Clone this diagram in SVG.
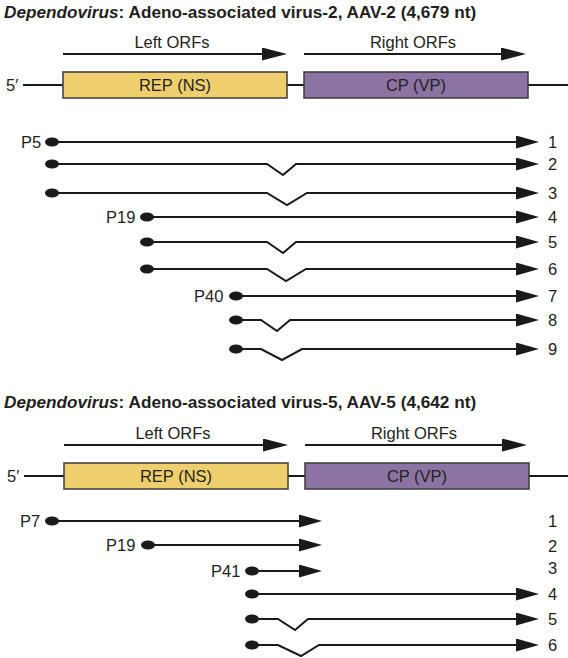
<svg xmlns="http://www.w3.org/2000/svg" width="568" height="658" viewBox="0 0 568 658">
<defs>
<style>
text{font-family:"Liberation Sans",Arial,sans-serif;fill:#231f20}
.title{font-size:17.2px;font-weight:bold}
.lbl{font-size:16.5px}
.mid{text-anchor:middle}
.line{fill:none;stroke:#1a1a1a;stroke-width:2}
.tx{fill:none;stroke:#1a1a1a;stroke-width:2;marker-end:url(#ah)}
.orf{fill:none;stroke:#1a1a1a;stroke-width:2.2;marker-end:url(#ah2)}
.rep{fill:#efcf6d;stroke:#3a3a3a;stroke-width:1.5}
.cp{fill:#8b74a3;stroke:#3a3a3a;stroke-width:1.5}
.dot{fill:#1a1a1a}
</style>
<marker id="ah" markerUnits="userSpaceOnUse" markerWidth="23" markerHeight="13" refX="13" refY="6.5" orient="auto"><path d="M0,0 L23,6.5 L0,13 z" fill="#1a1a1a"/></marker>
<marker id="ah2" markerUnits="userSpaceOnUse" markerWidth="25" markerHeight="13" refX="15" refY="6.5" orient="auto"><path d="M0,0 L25,6.5 L0,13 z" fill="#1a1a1a"/></marker>
</defs>

<g id="aav2">
<g id="title2"><text class="title" x="4" y="18"><tspan font-style="italic">Dependovirus</tspan>: Adeno-associated virus-2, AAV-2 (4,679 nt)</text></g>
<g id="orf-left2"><path class="orf" d="M63,54 H277"/><text class="lbl mid" x="172" y="47.5">Left ORFs</text></g>
<g id="orf-right2"><path class="orf" d="M304,54 H516"/><text class="lbl mid" x="413" y="47.5">Right ORFs</text></g>
<g id="genome2">
<text class="lbl" x="6" y="91">5′</text>
<path class="line" d="M23,85 H63 M287,85 H304 M528,85 H568"/>
</g>
<g id="rep2"><rect class="rep" x="63" y="72" width="224" height="26"/><text class="lbl mid" x="175" y="91">REP (NS)</text></g>
<g id="cp2"><rect class="cp" x="304" y="72" width="224" height="26"/><text class="lbl mid" x="416" y="91">CP (VP)</text></g>
<g id="promoters2">
<text class="lbl" x="21" y="148">P5</text>
<text class="lbl" x="106" y="223">P19</text>
<text class="lbl" x="194" y="302">P40</text>
<ellipse class="dot" cx="52" cy="142" rx="7" ry="4.5"/>
<ellipse class="dot" cx="52" cy="164" rx="7" ry="4.5"/>
<ellipse class="dot" cx="52" cy="193" rx="7" ry="4.5"/>
<ellipse class="dot" cx="147" cy="217" rx="7" ry="4.5"/>
<ellipse class="dot" cx="147" cy="242" rx="7" ry="4.5"/>
<ellipse class="dot" cx="147" cy="269" rx="7" ry="4.5"/>
<ellipse class="dot" cx="236" cy="296" rx="7" ry="4.5"/>
<ellipse class="dot" cx="236" cy="320" rx="7" ry="4.5"/>
<ellipse class="dot" cx="236" cy="349" rx="7" ry="4.5"/>
</g>
<g id="numbers2">
<text class="lbl" x="548" y="148">1</text>
<text class="lbl" x="548" y="170">2</text>
<text class="lbl" x="548" y="199">3</text>
<text class="lbl" x="548" y="223">4</text>
<text class="lbl" x="548" y="248">5</text>
<text class="lbl" x="548" y="275">6</text>
<text class="lbl" x="548" y="302">7</text>
<text class="lbl" x="548" y="326">8</text>
<text class="lbl" x="548" y="355">9</text>
</g>
</g>

<g id="aav5">
<g id="title5"><text class="title" x="4" y="408"><tspan font-style="italic">Dependovirus</tspan>: Adeno-associated virus-5, AAV-5 (4,642 nt)</text></g>
<g id="orf-left5"><path class="orf" d="M64,445 H278"/><text class="lbl mid" x="173" y="438.5">Left ORFs</text></g>
<g id="orf-right5"><path class="orf" d="M305,445 H517"/><text class="lbl mid" x="414" y="438.5">Right ORFs</text></g>
<g id="genome5">
<text class="lbl" x="7" y="482">5′</text>
<path class="line" d="M24,476 H64 M288,476 H305 M529,476 H568"/>
</g>
<g id="rep5"><rect class="rep" x="64" y="463" width="224" height="26"/><text class="lbl mid" x="176" y="482">REP (NS)</text></g>
<g id="cp5"><rect class="cp" x="305" y="463" width="224" height="26"/><text class="lbl mid" x="417" y="482">CP (VP)</text></g>
<g id="promoters5">
<text class="lbl" x="20" y="527">P7</text>
<text class="lbl" x="106" y="551">P19</text>
<text class="lbl" x="211" y="577">P41</text>
<ellipse class="dot" cx="52" cy="521" rx="7" ry="4.5"/>
<ellipse class="dot" cx="148" cy="545" rx="7" ry="4.5"/>
<ellipse class="dot" cx="252" cy="571" rx="7" ry="4.5"/>
<ellipse class="dot" cx="252" cy="594" rx="7" ry="4.5"/>
<ellipse class="dot" cx="252" cy="619" rx="7" ry="4.5"/>
<ellipse class="dot" cx="252" cy="645" rx="7" ry="4.5"/>
</g>
<g id="numbers5">
<text class="lbl" x="548" y="527">1</text>
<text class="lbl" x="548" y="552">2</text>
<text class="lbl" x="548" y="574">3</text>
<text class="lbl" x="548" y="600">4</text>
<text class="lbl" x="548" y="625">5</text>
<text class="lbl" x="548" y="651">6</text>
</g>
</g>

<g id="connectors">
<path class="tx" d="M52,142 H529"/>
<path class="tx" d="M52,164 H267 L283,175 L296,164 H529"/>
<path class="tx" d="M52,193 H267 L287,205 L307,193 H529"/>
<path class="tx" d="M147,217 H529"/>
<path class="tx" d="M147,242 H267 L283,253 L296,242 H529"/>
<path class="tx" d="M147,269 H267 L286,281 L306,269 H529"/>
<path class="tx" d="M236,296 H529"/>
<path class="tx" d="M236,320 H261 L277,331 L290,320 H529"/>
<path class="tx" d="M236,349 H261 L282,360 L302,349 H529"/>
<path class="tx" d="M52,521 H312"/>
<path class="tx" d="M148,545 H312"/>
<path class="tx" d="M252,571 H312"/>
<path class="tx" d="M252,594 H529"/>
<path class="tx" d="M252,619 H278 L295,630 L308,619 H529"/>
<path class="tx" d="M252,645 H278 L301,656 L319,645 H529"/>
</g>
</svg>
